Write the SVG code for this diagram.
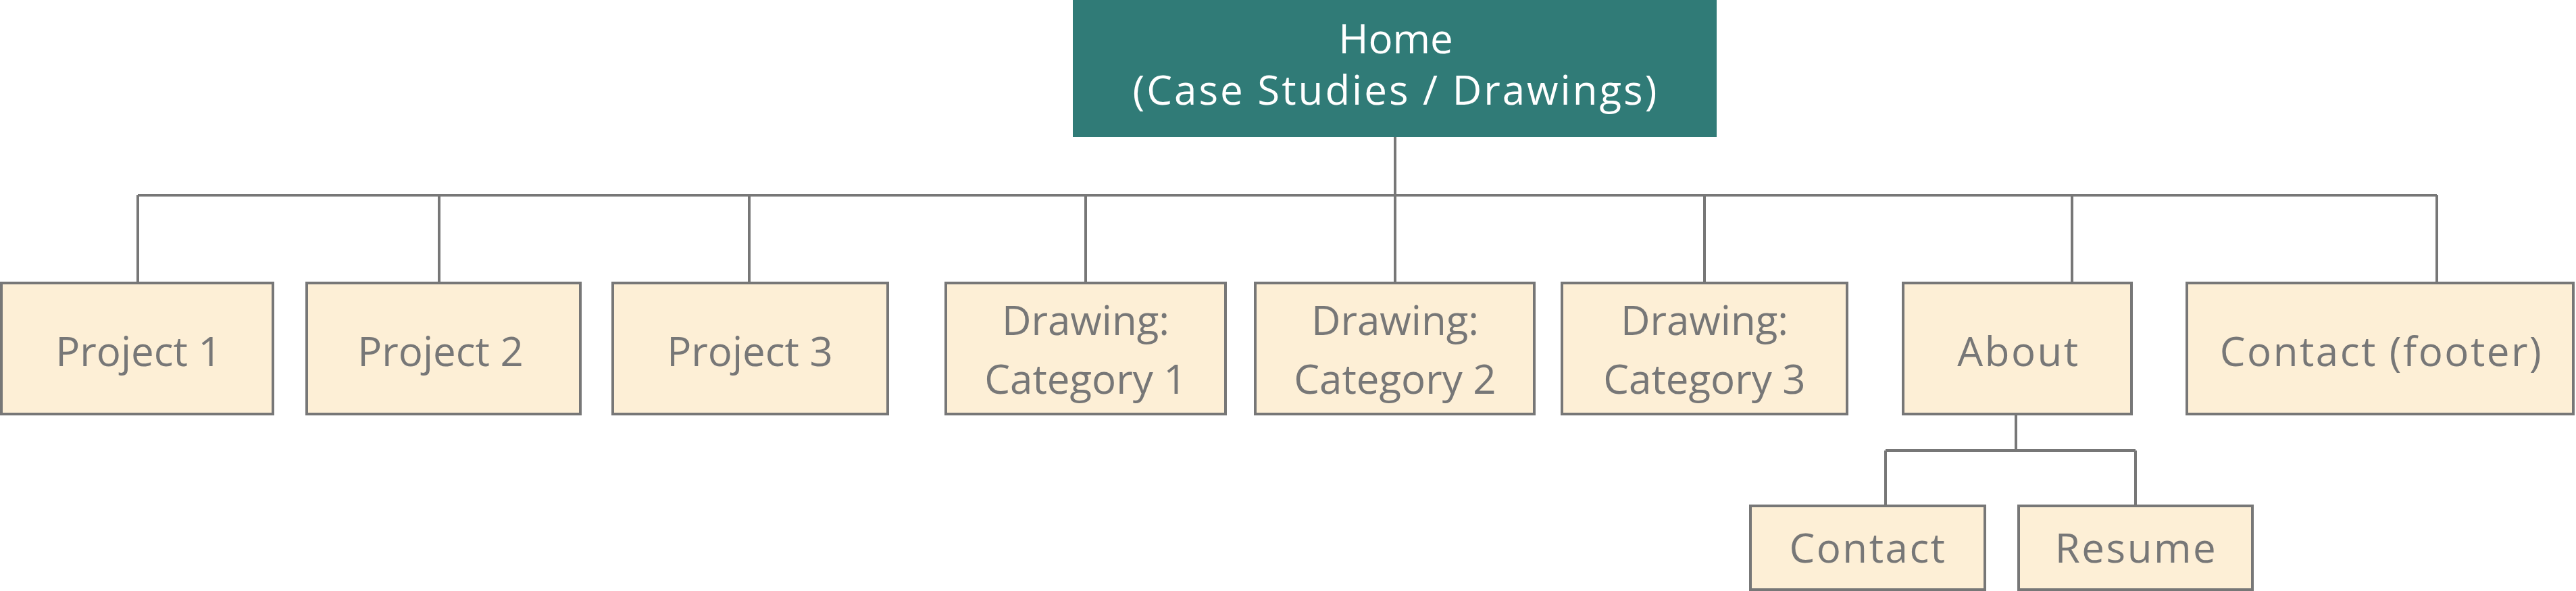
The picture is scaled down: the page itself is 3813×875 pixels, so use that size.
<svg xmlns="http://www.w3.org/2000/svg" width="3813" height="875" viewBox="0 0 3813 875">
<style>
.box{fill:#fdefd6;stroke:#777777;stroke-width:4}
.lbl{font-family:"Open Sans","Noto Sans","Liberation Sans",sans-serif;font-size:60px;fill:#777777;text-anchor:middle}
.wide{letter-spacing:2.5px}
.home{fill:#307b77}
.hl{font-family:"Open Sans","Noto Sans","Liberation Sans",sans-serif;font-size:60px;fill:#ffffff;text-anchor:middle}
.con{fill:none;stroke:#777777;stroke-width:4}
</style>
<rect width="3813" height="875" fill="#ffffff"/>
<g id="connectors">
<path class="con" d="M2065 203V289M204 289H3607M204 289V419M650 289V419M1109 289V419M1607 289V419M2065 289V419M2523 289V419M3067 289V419M3607 289V419"/>
<path class="con" d="M2984 615V667M2791 667H3161M2791 667V749M3161 667V749"/>
</g>
<g id="home">
<rect class="home" x="1588" y="0" width="953" height="203"/>
<text class="hl" x="2066" y="79">Home</text>
<text class="hl" x="2066" y="155" style="letter-spacing:3px">(Case Studies / Drawings)</text>
</g>
<g id="project1"><rect class="box" x="2" y="419" width="402" height="194"/><text class="lbl" x="205" y="542">Project 1</text></g>
<g id="project2"><rect class="box" x="454" y="419" width="405" height="194"/><text class="lbl" x="652" y="542">Project 2</text></g>
<g id="project3"><rect class="box" x="907" y="419" width="407" height="194"/><text class="lbl" x="1110" y="542">Project 3</text></g>
<g id="drawing1"><rect class="box" x="1400" y="419" width="414" height="194"/><text class="lbl" x="1607" y="496">Drawing:</text><text class="lbl" x="1607" y="583">Category 1</text></g>
<g id="drawing2"><rect class="box" x="1858" y="419" width="413" height="194"/><text class="lbl" x="2065" y="496">Drawing:</text><text class="lbl" x="2065" y="583">Category 2</text></g>
<g id="drawing3"><rect class="box" x="2312" y="419" width="422" height="194"/><text class="lbl" x="2523" y="496">Drawing:</text><text class="lbl" x="2523" y="583">Category 3</text></g>
<g id="about"><rect class="box" x="2817" y="419" width="338" height="194"/><text class="lbl wide" x="2988" y="542">About</text></g>
<g id="contact-footer"><rect class="box" x="3237" y="419" width="572" height="194"/><text class="lbl wide" x="3525" y="542">Contact (footer)</text></g>
<g id="contact"><rect class="box" x="2591" y="749" width="347" height="124"/><text class="lbl wide" x="2765" y="833">Contact</text></g>
<g id="resume"><rect class="box" x="2988" y="749" width="346" height="124"/><text class="lbl wide" x="3162" y="833">Resume</text></g>
</svg>
